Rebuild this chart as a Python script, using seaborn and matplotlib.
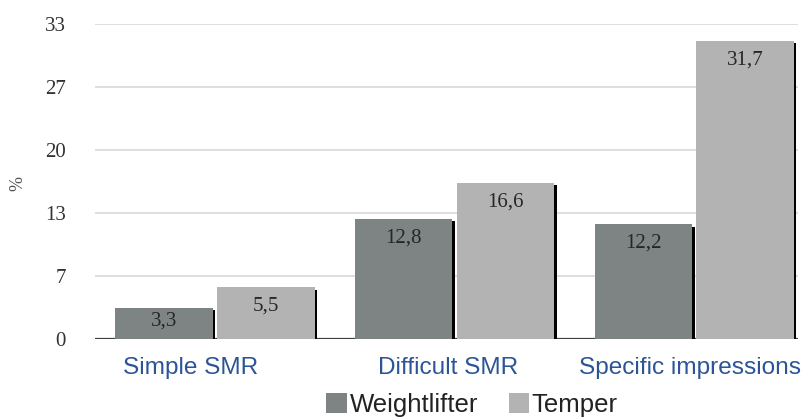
import matplotlib
matplotlib.use("Agg")
import matplotlib.pyplot as plt
import matplotlib.patheffects as pe
from matplotlib.patches import Patch
import seaborn as sns
import pandas as pd

categories = ["Simple SMR", "Difficult SMR", "Specific impressions"]
series = ["Weightlifter", "Temper"]
weightlifter = [3.3, 12.8, 12.2]
temper = [5.5, 16.6, 31.7]
value_labels_w = ["3,3", "12,8", "12,2"]
value_labels_t = ["5,5", "16,6", "31,7"]
ytick_vals = [0, 6.7, 13.4, 20.1, 26.8, 33.5]
ytick_labels = ["0", "7", "13", "20", "27", "33"]
colors = ["#7e8483", "#b3b3b3"]

df = pd.DataFrame({
    "category": categories * 2,
    "series": [series[0]] * 3 + [series[1]] * 3,
    "value": weightlifter + temper,
})

sns.set_theme(style="white")
W, H = 807, 417
fig = plt.figure(figsize=(W / 100, H / 100), dpi=100)
ax = fig.add_axes([95 / W, 1 - 339 / H, (798 - 95) / W, (339 - 24) / H])

sns.barplot(data=df, x="category", y="value", hue="series", order=categories,
            hue_order=series, palette=colors, width=0.85, gap=0.045,
            ax=ax, legend=False, saturation=1, edgecolor="none", linewidth=0)

for p in ax.patches:
    p.set_path_effects([pe.SimplePatchShadow(offset=(2.0, -1.6), shadow_rgbFace="black", alpha=1.0),
                        pe.Normal()])
    p.set_zorder(3)

ax.set_xlim(-0.501, 2.434)
ax.set_ylim(0, 33.5)
ax.set_yticks(ytick_vals)
ax.set_yticklabels(ytick_labels, fontfamily="Liberation Serif", fontsize=15, color="#333333")
for y in ytick_vals[1:]:
    ax.axhline(y, color="#dedede", lw=1.4, zorder=0)
ax.axhline(0, color="#404040", lw=1.6, zorder=2)
for s in ax.spines.values():
    s.set_visible(False)
ax.tick_params(axis="y", length=0, pad=21)
ax.tick_params(axis="x", length=0, pad=13)
# category label positions (labels sit slightly off the group centres in the reference)
ax.set_xticks([-0.100, 0.975, 1.985])
ax.set_xticklabels(categories, fontfamily="Liberation Sans", fontsize=17.6, color="#2c5595")
ax.set_xlabel("")
ax.set_ylabel("%", fontfamily="Liberation Serif", fontsize=13, color="#555555")
ax.yaxis.set_label_coords(-(95 - 26) / (798 - 95), (339 - 183) / (339 - 24))

# value labels
bars = [p for p in ax.patches if p.get_height() > 0]
bars_sorted = sorted(bars, key=lambda b: b.get_x())
labels_seq = []
for w, t in zip(value_labels_w, value_labels_t):
    labels_seq += [w, t]
px_per_unit = (339 - 24) / 33.5
for b, lab in zip(bars_sorted, labels_seq):
    h = b.get_height()
    off = 19 / px_per_unit
    if h * px_per_unit < 45:
        off = 13 / px_per_unit
    ax.text(b.get_x() + b.get_width() / 2, h - off, lab, ha="center", va="center",
            fontfamily="Liberation Serif", fontsize=15, color="#262626", zorder=5)

handles = [Patch(facecolor=c, edgecolor="none") for c in colors]
fig.legend(handles, series, loc="center", bbox_to_anchor=(472 / W, 1 - 405 / H),
           ncol=2, frameon=False, prop={"family": "Liberation Sans", "size": 18.5},
           handlelength=0.8, handleheight=0.8, handletextpad=0.1, columnspacing=1.2,
           labelcolor="#222222", borderaxespad=0, borderpad=0)

fig.savefig("out.png", dpi=100)
